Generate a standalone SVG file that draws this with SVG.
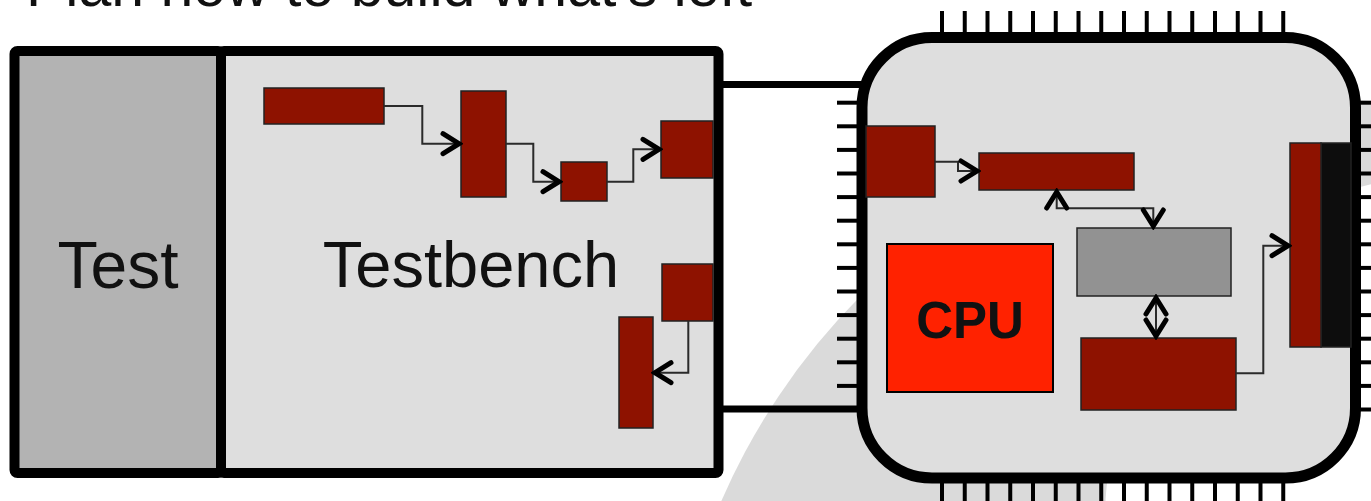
<svg xmlns="http://www.w3.org/2000/svg" width="1371" height="501" viewBox="0 0 1371 501">
<style>
text{font-family:"Liberation Sans",Arial,sans-serif;fill:#111}
.box{stroke:#000;stroke-width:10;stroke-linejoin:round}
.red{fill:#8e1200;stroke:#222;stroke-width:1.5}
.tick{stroke:#000;stroke-width:4}
.conn{fill:none;stroke:#2a2a2a;stroke-width:2;marker-end:url(#chev)}
.bi{marker-start:url(#chev)}
.wire{stroke:#000;stroke-width:7}
</style>
<defs>
<marker id="chev" viewBox="-22 -13 24 26" refX="0" refY="0" markerWidth="24" markerHeight="26" markerUnits="userSpaceOnUse" orient="auto-start-reverse">
<path d="M-18,-10 L-2,0 L-18,10" fill="none" stroke="#000" stroke-width="5" stroke-linecap="round"/>
</marker>
</defs>
<rect width="1371" height="501" fill="#fff"/>
<g id="backdrop">
<circle cx="1333" cy="767" r="667" fill="#dadada"/>
<circle cx="1450" cy="520" r="345" fill="#fff"/>
</g>
<text id="title" x="26" y="5.5" font-size="59">Plan how to build what's left</text>
<g id="test">
<rect class="box" x="14.5" y="51" width="206.5" height="422" rx="3" fill="#b3b3b3"/>
<text x="118" y="288" font-size="66" text-anchor="middle">Test</text>
</g>
<g id="testbench">
<rect class="box" x="221" y="51" width="497.5" height="422" rx="3" fill="#dedede"/>
<text x="471" y="287" font-size="65" text-anchor="middle">Testbench</text>
</g>
<g id="tb1"><rect class="red" x="264" y="88" width="120" height="36"/></g>
<g id="tb2"><rect class="red" x="461" y="91" width="45" height="106"/></g>
<g id="tb3"><rect class="red" x="561" y="162" width="46" height="39"/></g>
<g id="tb4"><rect class="red" x="661" y="121" width="52" height="57"/></g>
<g id="tb5"><rect class="red" x="662" y="264" width="51" height="57"/></g>
<g id="tb6"><rect class="red" x="619" y="317" width="34" height="111"/></g>
<g id="wires">
<line class="wire" x1="718" y1="84.5" x2="862" y2="84.5"/>
<line class="wire" x1="718" y1="409" x2="862" y2="409"/>
</g>
<g id="chip">
<g id="pins">
<g class="tick">
<line x1="942" y1="11" x2="942" y2="36"/><line x1="964.75" y1="11" x2="964.75" y2="36"/><line x1="987.5" y1="11" x2="987.5" y2="36"/><line x1="1010.25" y1="11" x2="1010.25" y2="36"/><line x1="1033" y1="11" x2="1033" y2="36"/><line x1="1055.75" y1="11" x2="1055.75" y2="36"/><line x1="1078.5" y1="11" x2="1078.5" y2="36"/><line x1="1101.25" y1="11" x2="1101.25" y2="36"/><line x1="1124" y1="11" x2="1124" y2="36"/><line x1="1146.75" y1="11" x2="1146.75" y2="36"/><line x1="1169.5" y1="11" x2="1169.5" y2="36"/><line x1="1192.25" y1="11" x2="1192.25" y2="36"/><line x1="1215" y1="11" x2="1215" y2="36"/><line x1="1237.75" y1="11" x2="1237.75" y2="36"/><line x1="1260.5" y1="11" x2="1260.5" y2="36"/><line x1="1283.25" y1="11" x2="1283.25" y2="36"/>
<line x1="942" y1="480" x2="942" y2="501"/><line x1="964.75" y1="480" x2="964.75" y2="501"/><line x1="987.5" y1="480" x2="987.5" y2="501"/><line x1="1010.25" y1="480" x2="1010.25" y2="501"/><line x1="1033" y1="480" x2="1033" y2="501"/><line x1="1055.75" y1="480" x2="1055.75" y2="501"/><line x1="1078.5" y1="480" x2="1078.5" y2="501"/><line x1="1101.25" y1="480" x2="1101.25" y2="501"/><line x1="1124" y1="480" x2="1124" y2="501"/><line x1="1146.75" y1="480" x2="1146.75" y2="501"/><line x1="1169.5" y1="480" x2="1169.5" y2="501"/><line x1="1192.25" y1="480" x2="1192.25" y2="501"/><line x1="1215" y1="480" x2="1215" y2="501"/><line x1="1237.75" y1="480" x2="1237.75" y2="501"/><line x1="1260.5" y1="480" x2="1260.5" y2="501"/><line x1="1283.25" y1="480" x2="1283.25" y2="501"/>
<line x1="837" y1="102.7" x2="862" y2="102.7"/><line x1="837" y1="126.3" x2="862" y2="126.3"/><line x1="837" y1="149.9" x2="862" y2="149.9"/><line x1="837" y1="173.5" x2="862" y2="173.5"/><line x1="837" y1="197.1" x2="862" y2="197.1"/><line x1="837" y1="220.7" x2="862" y2="220.7"/><line x1="837" y1="244.3" x2="862" y2="244.3"/><line x1="837" y1="267.9" x2="862" y2="267.9"/><line x1="837" y1="291.5" x2="862" y2="291.5"/><line x1="837" y1="315.1" x2="862" y2="315.1"/><line x1="837" y1="338.7" x2="862" y2="338.7"/><line x1="837" y1="362.3" x2="862" y2="362.3"/><line x1="837" y1="385.9" x2="862" y2="385.9"/>
<line x1="1355" y1="102.7" x2="1371" y2="102.7"/><line x1="1355" y1="126.3" x2="1371" y2="126.3"/><line x1="1355" y1="149.9" x2="1371" y2="149.9"/><line x1="1355" y1="173.5" x2="1371" y2="173.5"/><line x1="1355" y1="197.1" x2="1371" y2="197.1"/><line x1="1355" y1="220.7" x2="1371" y2="220.7"/><line x1="1355" y1="244.3" x2="1371" y2="244.3"/><line x1="1355" y1="267.9" x2="1371" y2="267.9"/><line x1="1355" y1="291.5" x2="1371" y2="291.5"/><line x1="1355" y1="315.1" x2="1371" y2="315.1"/><line x1="1355" y1="338.7" x2="1371" y2="338.7"/><line x1="1355" y1="362.3" x2="1371" y2="362.3"/><line x1="1355" y1="385.9" x2="1371" y2="385.9"/><line x1="1355" y1="409.5" x2="1371" y2="409.5"/>
</g>
</g>
<rect x="862" y="37.5" width="493.5" height="440.5" rx="70" fill="#dedede" stroke="#000" stroke-width="11"/>
</g>
<g id="chipA"><rect class="red" x="866" y="126" width="69" height="71"/></g>
<g id="chipB"><rect class="red" x="979" y="153" width="155" height="37"/></g>
<g id="cpu">
<rect x="887" y="244" width="166" height="148" fill="#ff2200" stroke="#000" stroke-width="2"/>
<text x="970" y="338" font-size="51" font-weight="bold" text-anchor="middle">CPU</text>
</g>
<g id="grey"><rect x="1077" y="228" width="154" height="68" fill="#929292" stroke="#222" stroke-width="1.5"/></g>
<g id="chipC"><rect class="red" x="1081" y="338" width="155" height="72"/></g>
<g id="port">
<rect x="1321" y="143" width="30" height="204" fill="#0d0d0d" stroke="#222" stroke-width="1.5"/>
<rect class="red" x="1290" y="143" width="31" height="204"/>
</g>
<g id="connectors">
<path class="conn" d="M384,106 H422.3 V143.7 H461"/>
<path class="conn" d="M506,143.7 H533.3 V181.7 H561"/>
<path class="conn" d="M607,181.7 H633.3 V149.3 H661"/>
<path class="conn" d="M688.3,321 V372.7 H653"/>
<path class="conn" d="M935,161.7 H958 V171 H979"/>
<path class="conn bi" d="M1056.7,190 V208.3 H1153.3 V228"/>
<path class="conn bi" d="M1156,296 V338"/>
<path class="conn" d="M1236,373.3 H1263.3 V245.7 H1290"/>
</g>
</svg>
